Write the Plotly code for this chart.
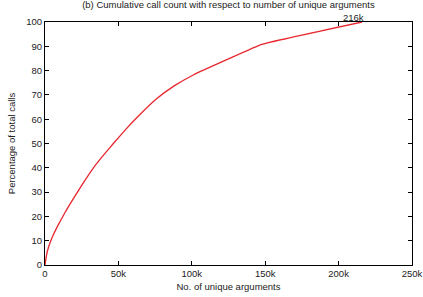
import plotly.graph_objects as go

unique_args_k = [0, 1, 2.5, 5, 9, 14, 19, 25, 33, 40, 47, 55, 64, 76, 88, 101, 125, 147.6, 216]
pct_calls = [0, 4, 7.5, 11.5, 16.5, 22, 27, 32.8, 40, 45.3, 50.3, 55.8, 61.5, 68.4, 73.7, 78.2, 84.8, 90.8, 100]
x_ticks = [0, 50, 100, 150, 200, 250]
x_tick_labels = ["0", "50k", "100k", "150k", "200k", "250k"]
y_ticks = list(range(0, 101, 10))

fig = go.Figure()
fig.add_trace(go.Scatter(x=unique_args_k, y=pct_calls, mode="lines",
                         line=dict(color="#e8262e", width=1.3, shape="spline", smoothing=0.3),
                         showlegend=False, hoverinfo="skip", cliponaxis=False))
fig.add_annotation(x=unique_args_k[-1], y=pct_calls[-1], text="216k", showarrow=False,
                   yanchor="bottom", xanchor="center", xshift=-9, yshift=-3,
                   font=dict(size=9.5, color="#222"))

axis_common = dict(showgrid=False, zeroline=False, showline=True, linecolor="black",
                   linewidth=1, mirror="allticks", ticks="inside", ticklen=4,
                   tickcolor="black", tickfont=dict(size=9.5, color="#222"), automargin=False)
fig.update_xaxes(range=[0, 250], tickvals=x_ticks, ticktext=x_tick_labels,
                 title=dict(text="No. of unique arguments", font=dict(size=9.5, color="#222"), standoff=4),
                 **axis_common)
fig.update_yaxes(range=[0, 100], tickvals=y_ticks,
                 title=dict(text="Percentage of total calls", font=dict(size=9.5, color="#222"), standoff=8),
                 **axis_common)
fig.update_layout(width=423, height=297, margin=dict(l=45, r=11, t=22, b=32),
                  paper_bgcolor="white", plot_bgcolor="white",
                  font=dict(family="Liberation Sans, Arial, sans-serif"),
                  title=dict(text="(b) Cumulative call count with respect to number of unique arguments",
                             x=0.54, xanchor="center", y=0.995, yanchor="top",
                             font=dict(size=9.5, color="#222"), automargin=False))
fig.write_html("out.html")
